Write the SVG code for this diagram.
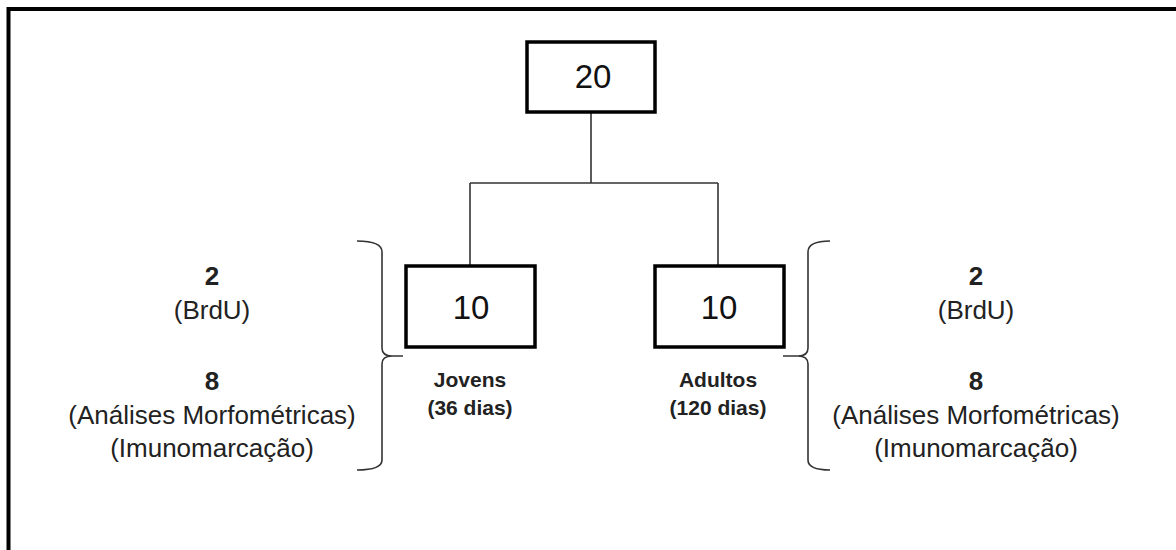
<svg xmlns="http://www.w3.org/2000/svg" width="1176" height="550" viewBox="0 0 1176 550">
<style>
.box{fill:#fff;stroke:#000;stroke-width:3.5}
.conn{fill:none;stroke:#333;stroke-width:1.6}
.brace{fill:none;stroke:#333;stroke-width:1.6}
.num{font-family:"Liberation Sans",Arial,sans-serif;font-size:33px;fill:#111;text-anchor:middle}
.t{font-family:"Liberation Sans",Arial,sans-serif;font-size:26px;fill:#222;text-anchor:middle}
.tb{font-family:"Liberation Sans",Arial,sans-serif;font-size:26px;font-weight:bold;fill:#222;text-anchor:middle}
.lb{font-family:"Liberation Sans",Arial,sans-serif;font-size:21px;font-weight:bold;fill:#222;text-anchor:middle}
</style>
<rect x="0" y="0" width="1176" height="550" fill="#fff"/>
<rect x="8.5" y="9" width="1200" height="600" fill="none" stroke="#000" stroke-width="4"/>
<g id="connectors">
<path class="conn" d="M591,112 L591,183 M470,183 L718,183 M470,183 L470,266 M718,183 L718,266"/>
</g>
<g id="node-20">
<rect class="box" x="527" y="42" width="128" height="70"/>
<text class="num" x="593" y="88">20</text>
</g>
<g id="node-jovens">
<rect class="box" x="406" y="266" width="129" height="81"/>
<text class="num" x="471" y="319">10</text>
<text class="lb" x="470" y="387">Jovens</text>
<text class="lb" x="470" y="415">(36 dias)</text>
</g>
<g id="node-adultos">
<rect class="box" x="655" y="266" width="129" height="81"/>
<text class="num" x="719" y="319">10</text>
<text class="lb" x="718" y="387">Adultos</text>
<text class="lb" x="718" y="415">(120 dias)</text>
</g>
<g id="brace-left">
<path class="brace" d="M357,241 Q382,241 382,252 L382,348 Q382,356 392,356 L403,356 M392,356 Q382,356 382,364 L382,460 Q382,470 357,470"/>
</g>
<g id="brace-right">
<path class="brace" d="M830,241 Q808,241 808,252 L808,348 Q808,356 798,356 L783,356 M798,356 Q808,356 808,364 L808,460 Q808,470 830,470"/>
</g>
<g id="label-left">
<text class="tb" x="212" y="285">2</text>
<text class="t" x="212" y="319">(BrdU)</text>
<text class="tb" x="212" y="390">8</text>
<text class="t" x="212" y="424">(Análises Morfométricas)</text>
<text class="t" x="212" y="457">(Imunomarcação)</text>
</g>
<g id="label-right">
<text class="tb" x="976" y="285">2</text>
<text class="t" x="976" y="319">(BrdU)</text>
<text class="tb" x="976" y="390">8</text>
<text class="t" x="976" y="424">(Análises Morfométricas)</text>
<text class="t" x="976" y="457">(Imunomarcação)</text>
</g>
</svg>
